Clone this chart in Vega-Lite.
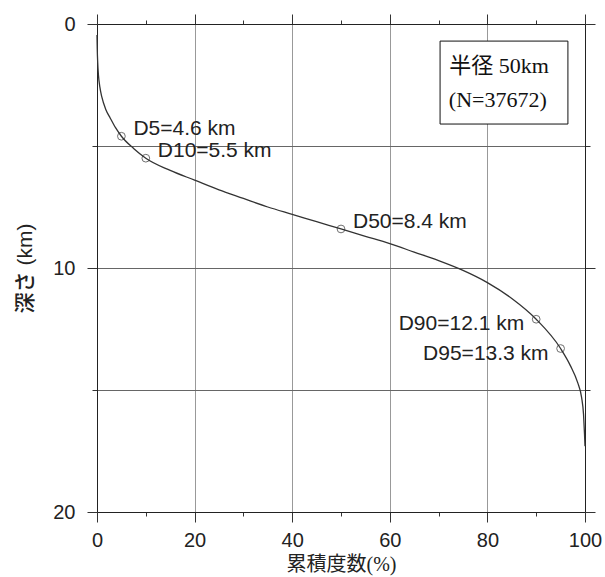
{
  "$schema": "https://vega.github.io/schema/vega-lite/v6.json",
  "width": 488,
  "height": 488,
  "autosize": {"type": "none"},
  "padding": {"left": 97, "top": 24, "right": 20, "bottom": 65},
  "background": "white",
  "config": {
    "view": {"stroke": null},
    "axis": {"domainColor": "#222", "tickColor": "#333", "labelColor": "#222", "titleColor": "#222", "labelFont": "Liberation Sans", "labelFontSize": 20, "labelFlush": false}
  },
  "datasets": {
    "curve": [
      {"pct": 0, "depth": 0.45},
      {"pct": 0.05, "depth": 1.0},
      {"pct": 0.15, "depth": 1.6},
      {"pct": 0.3, "depth": 2.1},
      {"pct": 0.6, "depth": 2.6},
      {"pct": 1.0, "depth": 3.0},
      {"pct": 1.8, "depth": 3.5},
      {"pct": 2.7, "depth": 3.85},
      {"pct": 3.8, "depth": 4.25},
      {"pct": 5, "depth": 4.6},
      {"pct": 7.5, "depth": 5.1},
      {"pct": 10, "depth": 5.5},
      {"pct": 15, "depth": 6.0},
      {"pct": 20, "depth": 6.4},
      {"pct": 25, "depth": 6.8},
      {"pct": 30, "depth": 7.15},
      {"pct": 35, "depth": 7.5},
      {"pct": 40, "depth": 7.8},
      {"pct": 45, "depth": 8.1},
      {"pct": 50, "depth": 8.4},
      {"pct": 55, "depth": 8.7},
      {"pct": 60, "depth": 9.0},
      {"pct": 65, "depth": 9.35},
      {"pct": 70, "depth": 9.7},
      {"pct": 75, "depth": 10.1},
      {"pct": 80, "depth": 10.6},
      {"pct": 85, "depth": 11.25},
      {"pct": 90, "depth": 12.1},
      {"pct": 95, "depth": 13.3},
      {"pct": 97, "depth": 14.0},
      {"pct": 98.5, "depth": 14.7},
      {"pct": 99.3, "depth": 15.3},
      {"pct": 99.7, "depth": 16.0},
      {"pct": 99.9, "depth": 16.8},
      {"pct": 100, "depth": 17.3}
    ],
    "marks": [
      {"pct": 5, "depth": 4.6, "label": "D5=4.6 km"},
      {"pct": 10, "depth": 5.5, "label": "D10=5.5 km"},
      {"pct": 50, "depth": 8.4, "label": "D50=8.4 km"},
      {"pct": 90, "depth": 12.1, "label": "D90=12.1 km"},
      {"pct": 95, "depth": 13.3, "label": "D95=13.3 km"}
    ],
    "box": [
      {"x1": 70.3, "x2": 96.5, "y1": 0.7, "y2": 4.1}
    ],
    "boxtext": [
      {"pct": 72.2, "depth": 1.72, "text": "半径 50km"},
      {"pct": 72.1, "depth": 3.1, "text": "(N=37672)"}
    ]
  },
  "resolve": {"axis": {"x": "independent", "y": "independent"}},
  "layer": [
    {
      "data": {"name": "curve"},
      "mark": {"type": "line", "color": "#333", "strokeWidth": 1.3, "interpolate": "monotone"},
      "encoding": {
        "x": {
          "field": "pct", "type": "quantitative",
          "scale": {"domain": [0, 100], "nice": false},
          "axis": {
            "orient": "bottom",
            "values": [0, 10, 20, 30, 40, 50, 60, 70, 80, 90, 100],
            "labelExpr": "datum.value % 20 === 0 ? datum.label : ''",
            "tickSize": {"condition": {"test": "datum.value % 20 === 0", "value": 10}, "value": 4},
            "grid": true,
            "gridColor": "#999",
            "gridOpacity": {"condition": {"test": "datum.value % 20 === 0 && datum.value > 0 && datum.value < 100", "value": 1}, "value": 0},
            "labelPadding": 8,
            "title": "累積度数(%)",
            "titleFont": "Liberation Serif, Noto Sans CJK JP",
            "titleFontSize": 20,
            "titleFontWeight": "normal",
            "titlePadding": 4
          }
        },
        "y": {
          "field": "depth", "type": "quantitative",
          "scale": {"domain": [0, 20], "reverse": true, "nice": false},
          "axis": {
            "orient": "left",
            "values": [0, 5, 10, 15, 20],
            "labelExpr": "datum.value % 10 === 0 ? datum.label : ''",
            "tickSize": {"condition": {"test": "datum.value % 10 === 0", "value": 10}, "value": 5},
            "grid": true,
            "gridColor": "#666",
            "gridOpacity": {"condition": {"test": "datum.value > 0 && datum.value < 20", "value": 1}, "value": 0},
            "labelPadding": 12,
            "title": "深さ (km)",
            "titleFont": "Liberation Sans, Noto Sans CJK JP",
            "titleFontSize": 21,
            "titleFontWeight": 500,
            "titlePadding": 17
          }
        }
      }
    },
    {
      "data": {"name": "marks"},
      "mark": {"type": "point", "shape": "circle", "filled": false, "size": 60, "stroke": "#333", "strokeWidth": 1},
      "encoding": {
        "x": {
          "field": "pct", "type": "quantitative",
          "axis": {
            "orient": "top",
            "values": [0, 10, 20, 30, 40, 50, 60, 70, 80, 90, 100],
            "labels": false,
            "tickSize": {"condition": {"test": "datum.value % 20 === 0", "value": 10}, "value": 4},
            "grid": false,
            "title": null
          }
        },
        "y": {
          "field": "depth", "type": "quantitative",
          "axis": {
            "orient": "right",
            "values": [0, 5, 10, 15, 20],
            "labels": false,
            "tickSize": {"condition": {"test": "datum.value % 10 === 0", "value": 10}, "value": 5},
            "grid": false,
            "title": null
          }
        }
      }
    },
    {
      "data": {"name": "marks"},
      "transform": [{"filter": "datum.pct < 80"}],
      "mark": {"type": "text", "align": "left", "baseline": "middle", "dx": 12, "dy": -7, "font": "Liberation Sans", "fontSize": 21, "color": "#222"},
      "encoding": {
        "x": {"field": "pct", "type": "quantitative", "axis": null},
        "y": {"field": "depth", "type": "quantitative", "axis": null},
        "text": {"field": "label"}
      }
    },
    {
      "data": {"name": "marks"},
      "transform": [{"filter": "datum.pct >= 80"}],
      "mark": {"type": "text", "align": "right", "baseline": "middle", "dx": -12, "dy": 5, "font": "Liberation Sans", "fontSize": 21, "color": "#222"},
      "encoding": {
        "x": {"field": "pct", "type": "quantitative", "axis": null},
        "y": {"field": "depth", "type": "quantitative", "axis": null},
        "text": {"field": "label"}
      }
    },
    {
      "data": {"name": "box"},
      "mark": {"type": "rect", "fill": "white", "stroke": "#111", "strokeWidth": 1},
      "encoding": {
        "x": {"field": "x1", "type": "quantitative", "axis": null},
        "x2": {"field": "x2"},
        "y": {"field": "y1", "type": "quantitative", "axis": null},
        "y2": {"field": "y2"}
      }
    },
    {
      "data": {"name": "boxtext"},
      "mark": {"type": "text", "align": "left", "baseline": "middle", "font": "Liberation Serif, Noto Sans CJK JP", "fontSize": 22, "color": "#111"},
      "encoding": {
        "x": {"field": "pct", "type": "quantitative", "axis": null},
        "y": {"field": "depth", "type": "quantitative", "axis": null},
        "text": {"field": "text"}
      }
    }
  ]
}
